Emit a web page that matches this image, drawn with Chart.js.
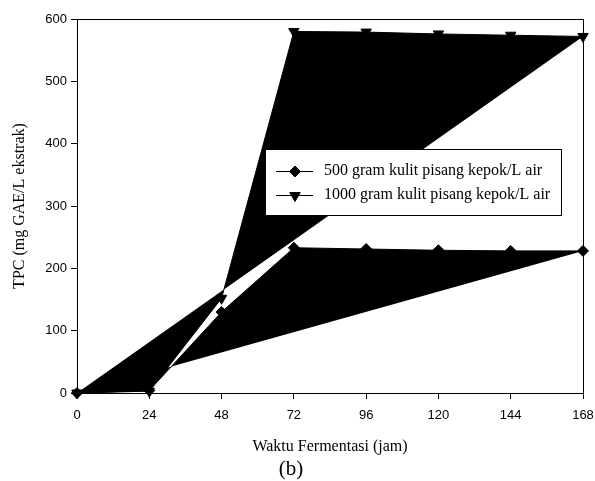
<!DOCTYPE html>
<html>
<head>
<meta charset="utf-8">
<script src="https://cdn.jsdelivr.net/npm/chart.js@4/dist/chart.umd.min.js"></script>
<style>
  html, body { margin: 0; padding: 0; background: #fff; }
  #wrap { width: 595px; height: 481px; }
</style>
</head>
<body>
<div id="wrap"><canvas id="tpc" width="595" height="481"></canvas></div>
<script>
// fermentation time (hours) and total phenolic content per extract
const hours = [0, 24, 48, 72, 96, 120, 144, 168];
const tpc500 = [0, 4, 130, 233, 231, 229, 228, 228];
const tpc1000 = [0, 3, 152, 580, 579, 576, 574, 572];

const seriesLabels = ['500 gram kulit pisang kepok/L air', '1000 gram kulit pisang kepok/L air'];
const xTitle = 'Waktu Fermentasi (jam)';
const yTitle = 'TPC (mg GAE/L ekstrak)';
const panelLabel = '(b)';

const SANS = '"Liberation Sans", Arial, sans-serif';
const SERIF = '"Liberation Serif", "Times New Roman", serif';

function toPoints(ys) {
  return hours.map((h, i) => ({ x: h, y: ys[i] }));
}

// frame on top/right, axis titles, inset legend
const decorations = {
  id: 'decorations',
  beforeDatasetsDraw(chart) {
    const { ctx, chartArea: a } = chart;
    ctx.save();
    ctx.strokeStyle = '#000';
    ctx.lineWidth = 1;
    ctx.beginPath();
    ctx.moveTo(a.left, a.top + 0.5);
    ctx.lineTo(a.right + 0.5, a.top + 0.5);
    ctx.lineTo(a.right + 0.5, a.bottom);
    ctx.stroke();
    ctx.restore();
  },
  afterDraw(chart) {
    const { ctx, chartArea: a } = chart;
    ctx.save();
    ctx.fillStyle = '#000';
    ctx.textAlign = 'center';
    ctx.textBaseline = 'middle';

    ctx.font = '16px ' + SERIF;
    ctx.fillText(xTitle, (a.left + a.right) / 2, 447);

    ctx.font = '21px ' + SERIF;
    ctx.fillText(panelLabel, 291, 469);

    ctx.save();
    ctx.translate(20, (a.top + a.bottom) / 2);
    ctx.rotate(-Math.PI / 2);
    ctx.font = '16px ' + SERIF;
    ctx.fillText(yTitle, 0, 0);
    ctx.restore();

    // legend box
    const bx = 265, by = 149, bw = 296, bh = 66;
    ctx.fillStyle = '#fff';
    ctx.fillRect(bx, by, bw, bh);
    ctx.strokeStyle = '#000';
    ctx.lineWidth = 1;
    ctx.strokeRect(bx + 0.5, by + 0.5, bw, bh);

    const rows = [171, 195];
    chart.data.datasets.forEach((ds, i) => {
      const y = rows[i];
      ctx.strokeStyle = '#000';
      ctx.lineWidth = 1;
      ctx.beginPath();
      ctx.moveTo(276, y + 0.5);
      ctx.lineTo(313, y + 0.5);
      ctx.stroke();
      ctx.fillStyle = '#000';
      Chart.helpers.drawPoint(ctx, {
        pointStyle: ds.pointStyle,
        rotation: ds.pointRotation || 0,
        radius: ds.pointRadius,
        borderWidth: 1
      }, 295, y + 0.5);
      ctx.fill();
      ctx.fillStyle = '#000';
      ctx.textAlign = 'left';
      ctx.font = '16px ' + SERIF;
      ctx.fillText(ds.label, 324, y);
    });
    ctx.restore();
  }
};

const config = {
  type: 'line',
  data: {
    datasets: [
      {
        label: seriesLabels[0],
        data: toPoints(tpc500),
        borderColor: '#000',
        backgroundColor: '#000',
        borderWidth: 1,
        fill: 'shape',
        pointStyle: 'rectRot',
        pointRadius: 5.5,
        pointBackgroundColor: '#000',
        pointBorderColor: '#000',
        clip: false
      },
      {
        label: seriesLabels[1],
        data: toPoints(tpc1000),
        borderColor: '#000',
        backgroundColor: '#000',
        borderWidth: 1,
        fill: 'shape',
        pointStyle: 'triangle',
        pointRotation: 180,
        pointRadius: 6,
        pointBackgroundColor: '#000',
        pointBorderColor: '#000',
        clip: false
      }
    ]
  },
  options: {
    responsive: false,
    animation: false,
    layout: { padding: { left: 0, top: 19, right: 12, bottom: 0 } },
    plugins: {
      legend: { display: false },
      tooltip: { enabled: false }
    },
    elements: { line: { tension: 0 } },
    scales: {
      x: {
        type: 'linear',
        min: 0,
        max: 168,
        afterFit(scale) {
          scale.height = 88;
          scale.paddingLeft = 0;
          scale.paddingRight = 0;
        },
        grid: { display: true, drawOnChartArea: false, drawTicks: true, tickLength: 6, color: '#000' },
        border: { display: true, color: '#000', width: 1 },
        ticks: {
          stepSize: 24,
          autoSkip: false,
          maxRotation: 0,
          padding: 9,
          color: '#000',
          font: { family: SANS, size: 13 }
        }
      },
      y: {
        min: 0,
        max: 600,
        afterFit(scale) {
          scale.width = 77;
          scale.paddingTop = 0;
          scale.paddingBottom = 0;
        },
        grid: { display: true, drawOnChartArea: false, drawTicks: true, tickLength: 6, color: '#000' },
        border: { display: true, color: '#000', width: 1 },
        ticks: {
          stepSize: 100,
          padding: 4,
          color: '#000',
          font: { family: SANS, size: 13 }
        }
      }
    }
  },
  plugins: [decorations]
};

const tpcChart = new Chart(document.getElementById('tpc'), config);
</script>
</body>
</html>
